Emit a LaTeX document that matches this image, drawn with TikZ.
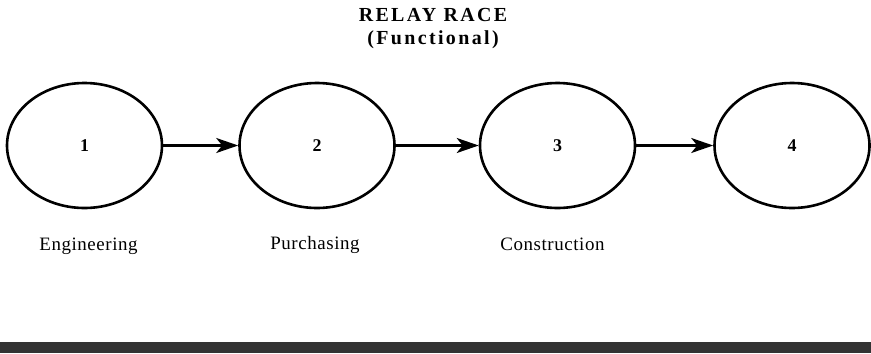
\documentclass[tikz,border=0pt]{standalone}
\usepackage{fontspec}
\setmainfont{Liberation Serif}
\newfontfamily\spacedfont[LetterSpace=12]{Liberation Serif}
\newfontfamily\labelfont[LetterSpace=3]{Liberation Serif}
\usetikzlibrary{shapes.geometric,arrows.meta}
\begin{document}
\begin{tikzpicture}[x=1bp, y=1bp, node distance={235bp}, auto=center]
    \tikzstyle{stage} = [ellipse, draw, line width=2.6bp, minimum width=155bp, minimum height=125bp, inner sep=0pt, font=\fontsize{18}{18}\selectfont\bfseries]
    \tikzstyle{dept} = [inner sep=0pt, font=\labelfont\fontsize{19}{19}\selectfont]
    \tikzstyle{heading} = [inner sep=0pt, font=\spacedfont\bfseries\fontsize{20}{20}\selectfont]
    \tikzstyle{pass} = [line width=2.4bp, -{Stealth[length=22bp, width=15bp, inset=6bp]}]

    \useasboundingbox (0,0) rectangle (871,-353);

    % Title
    \node[heading] (title) at (433,-15) {RELAY RACE};
    \node[heading] (sub) [below of=title, node distance=24.5bp] {(Functional)};

    % Stages of the race
    \node[stage] (s1) at (84.5,-145.5) {1};
    \node[stage] (s2) [right of=s1, xshift=-2.5bp] {2};
    \node[stage] (s3) [right of=s2, xshift=5.5bp] {3};
    \node[stage] (s4) [right of=s3, xshift=-0.5bp] {4};

    % Departments under the stages
    \node[dept] (d1) [below of=s1, node distance=101bp, xshift=4bp] {Engineering};
    \node[dept] (d2) [below of=s2, node distance=99bp, xshift=-2bp] {Purchasing};
    \node[dept] (d3) [below of=s3, node distance=99bp, xshift=-5bp] {Construction};

    \draw[pass] (s1) -- (s2);
    \draw[pass] (s2) -- (s3);
    \draw[pass] (s3) -- (s4);

    % Bar along the bottom
    \fill[black!80] (0,-342) rectangle (871,-353);
\end{tikzpicture}
\end{document}
